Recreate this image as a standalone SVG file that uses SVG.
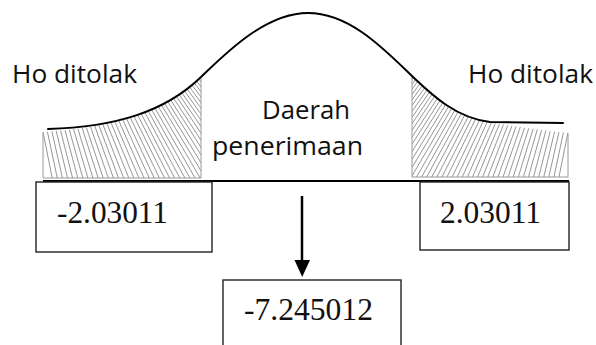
<svg xmlns="http://www.w3.org/2000/svg" xmlns:xlink="http://www.w3.org/1999/xlink" width="596" height="345" viewBox="0 0 596 345">
  <style>
    .label { font-family: "Open Sans", "Noto Sans", "Liberation Sans", sans-serif; font-size: 25px; fill: #111; }
    .value { font-family: "Liberation Serif", "Times New Roman", serif; font-size: 31.5px; fill: #111; }
    .box { fill: #fff; stroke: #222; stroke-width: 1.4; }
    .hatch { fill: none; stroke: #8a8a8a; stroke-width: 0.9; }
    .edge { fill: none; stroke: #9a9a9a; stroke-width: 1; }
    .curve { fill: none; stroke: #000; stroke-width: 2; stroke-linecap: round; }
    .axis { stroke: #000; stroke-width: 2; }
    .arrow { stroke: #000; stroke-width: 2.5; fill: none; }
  </style>
  <defs>
    <!-- fan of hatch strokes for the left tail; mirrored for the right tail -->
    <path id="fan" class="hatch" d="M28.6,60L52.6,180M32.1,60L57.7,180M35.7,60L62.9,180M39.2,60L68,180M42.7,60L73.1,180M46.3,60L78.3,180M49.8,60L83.4,180M53.3,60L88.5,180M56.8,60L93.6,180M60.4,60L98.8,180M63.9,60L103.9,180M67.4,60L109,180M71,60L114.2,180M74.5,60L119.3,180M78,60L124.4,180M81.6,60L129.6,180M85.1,60L134.7,180M88.6,60L139.8,180M92.1,60L144.9,180M95.7,60L150.1,180M99.2,60L155.2,180M102.7,60L160.3,180M106.3,60L165.5,180M109.8,60L170.6,180M113.3,60L175.7,180M116.9,60L180.9,180M120.4,60L186,180M123.9,60L191.1,180M127.4,60L196.2,180M131,60L201.4,180M134.5,60L206.5,180M138,60L211.6,180M141.6,60L216.8,180M145.1,60L221.9,180M148.6,60L227,180M152.2,60L232.2,180M155.7,60L237.3,180M159.2,60L242.4,180M162.7,60L247.5,180M166.3,60L252.7,180M169.8,60L257.8,180M173.3,60L262.9,180M176.9,60L268.1,180M180.4,60L273.2,180M183.9,60L278.3,180M187.5,60L283.5,180"/>
    <clipPath id="clipL">
      <path d="M43,132 C110,128 160,112 201,77 L201,178 L43,178 Z"/>
    </clipPath>
    <clipPath id="clipR">
      <path d="M412,77 C430,94 455,116 485,122 C520,127 545,131 568,133 L568,177 L412,177 Z"/>
    </clipPath>
  </defs>

  <rect width="596" height="345" fill="#fff"/>

  <!-- rejection region, left tail -->
  <g id="region-left">
    <g clip-path="url(#clipL)">
      <use xlink:href="#fan"/>
    </g>
    <path class="edge" d="M43,132 L43,178 L201,178 L201,77"/>
  </g>

  <!-- rejection region, right tail -->
  <g id="region-right">
    <g clip-path="url(#clipR)">
      <use xlink:href="#fan" transform="translate(611,0) scale(-1,1)"/>
    </g>
    <path class="edge" d="M412,77 L412,177 L568,177 L568,133"/>
  </g>

  <!-- normal curve -->
  <g id="curve">
    <path class="curve" d="M48,129 C115,127 165,112 201,77 C225,54 265,13 308,13 C350,13 385,50 412,76 C430,93 455,118 490,122 L563,123"/>
  </g>

  <!-- horizontal axis -->
  <g id="axis">
    <line class="axis" x1="43" y1="181" x2="569" y2="181"/>
  </g>

  <g id="label-left">
    <text class="label" x="12" y="83" textLength="125" lengthAdjust="spacingAndGlyphs">Ho ditolak</text>
  </g>
  <g id="label-right">
    <text class="label" x="468" y="83" textLength="125" lengthAdjust="spacingAndGlyphs">Ho ditolak</text>
  </g>
  <g id="label-center">
    <text class="label" x="262" y="119" textLength="88" lengthAdjust="spacingAndGlyphs">Daerah</text>
    <text class="label" x="212" y="155" textLength="151" lengthAdjust="spacingAndGlyphs">penerimaan</text>
  </g>

  <g id="box-neg">
    <rect class="box" x="36" y="182" width="176" height="70"/>
    <text class="value" x="57" y="223" textLength="111" lengthAdjust="spacingAndGlyphs">-2.03011</text>
  </g>
  <g id="box-pos">
    <rect class="box" x="420" y="182" width="149" height="68"/>
    <text class="value" x="440" y="223" textLength="101" lengthAdjust="spacingAndGlyphs">2.03011</text>
  </g>
  <g id="box-stat">
    <rect class="box" x="223" y="280" width="178" height="80"/>
    <text class="value" x="244" y="320" textLength="129" lengthAdjust="spacingAndGlyphs">-7.245012</text>
  </g>

  <!-- connectors -->
  <g id="connectors">
    <line class="arrow" x1="302" y1="196" x2="302" y2="262"/>
    <polygon points="294.5,260 310,260 302.2,277" fill="#000"/>
  </g>
</svg>
